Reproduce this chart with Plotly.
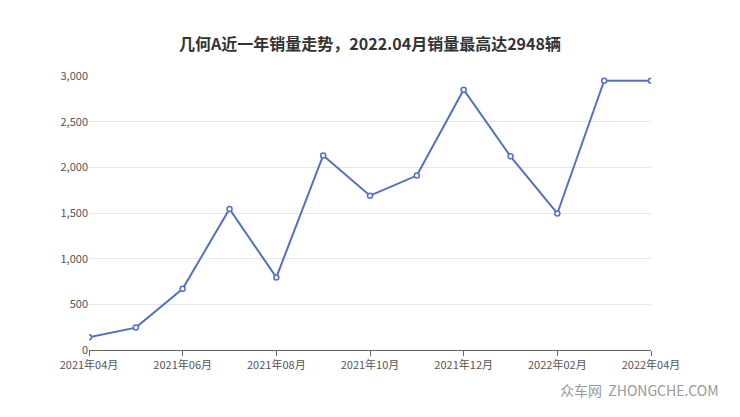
import plotly.graph_objects as go

months = ["2021-04","2021-05","2021-06","2021-07","2021-08","2021-09","2021-10","2021-11","2021-12","2022-01","2022-02","2022-03","2022-04"]
sales = [140, 245, 670, 1545, 795, 2130, 1690, 1910, 2850, 2120, 1495, 2948, 2948]
tick_vals = ["2021-04","2021-06","2021-08","2021-10","2021-12","2022-02","2022-04"]
tick_text = ["2021年04月","2021年06月","2021年08月","2021年10月","2021年12月","2022年02月","2022年04月"]

fig = go.Figure(go.Scatter(
    x=list(range(len(months))), y=sales, mode="lines+markers",
    line=dict(color="#5470c6", width=2),
    marker=dict(size=5, color="white", line=dict(color="#5470c6", width=1.5)),
))
fig.update_layout(
    width=740, height=417, paper_bgcolor="white", plot_bgcolor="white",
    margin=dict(l=81, r=97, t=68, b=75),
    showlegend=False,
    font=dict(family="Noto Sans CJK SC", color="#555", size=11),
    title=dict(text="<b>几何A近一年销量走势，2022.04月销量最高达2948辆</b>", x=0.5, xref="paper", y=0.925, xanchor="center",
               font=dict(size=16, color="#333", family="Noto Sans CJK SC")),
    xaxis=dict(range=[0, len(months)-1], tickvals=[months.index(m) for m in tick_vals], ticktext=tick_text,
               showgrid=False, showline=True, linecolor="#666", ticks="outside", ticklen=5, tickcolor="#666",
               zeroline=False),
    yaxis=dict(range=[0, 3000], dtick=500, tickformat=",", gridcolor="#e6e6e6", zeroline=False,
               showline=False),
    annotations=[dict(text="众车网  ZHONGCHE.COM", x=1.0, y=0, xref="paper", yref="paper",
                      xshift=70, yshift=-52, xanchor="right", showarrow=False,
                      font=dict(size=14, color="#999"))],
)
fig.write_html("out.html")
